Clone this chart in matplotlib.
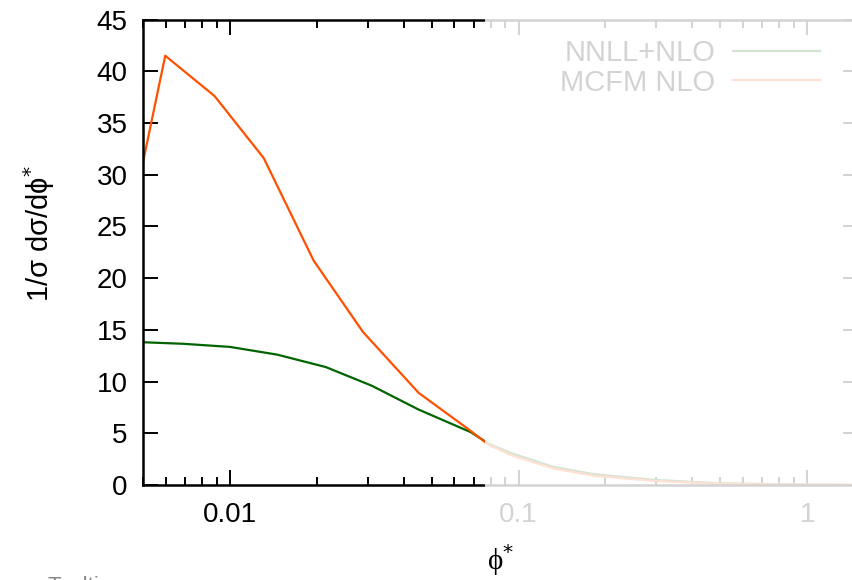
import matplotlib
matplotlib.use("Agg")
from matplotlib import pyplot as plt
from matplotlib.patches import Rectangle
from matplotlib.ticker import FixedLocator, LogLocator, NullFormatter
import numpy as np

# NNLL+NLO (green)
nnll_x = [0.005, 0.0069, 0.01, 0.0146, 0.0215, 0.031, 0.045, 0.0684, 0.0787,
          0.0938, 0.1321, 0.1817, 0.2931, 0.4882, 1.0, 1.42]
nnll_y = [13.8, 13.65, 13.35, 12.6, 11.4, 9.6, 7.3, 5.1, 4.0,
          3.1, 1.75, 1.05, 0.5, 0.17, 0.04, 0.01]

# MCFM NLO (orange)
mcfm_x = [0.005, 0.00597, 0.00885, 0.0131, 0.0195, 0.0289, 0.0451, 0.0670, 0.0787,
          0.0938, 0.1321, 0.1817, 0.2931, 0.4882, 1.0, 1.42]
mcfm_y = [31.2, 41.5, 37.6, 31.6, 21.7, 14.8, 8.9, 5.4, 3.9,
          2.9, 1.6, 0.9, 0.4, 0.12, 0.03, 0.01]

y_ticks = list(range(0, 50, 5))
x_ticks = [0.01, 0.1, 1]
x_ticklabels = ["0.01", "0.1", "1"]

plt.rcParams["font.family"] = ["Liberation Sans", "DejaVu Sans"]
plt.rcParams["mathtext.fontset"] = "dejavusans"

W, H = 853, 580
fig = plt.figure(figsize=(W / 100, H / 100), dpi=100)
ax = fig.add_axes([143 / W, (H - 485) / H, (858 - 143) / W, (485 - 19.5) / H])

ax.plot(nnll_x, nnll_y, color="#006400", lw=1.6, label="NNLL+NLO")
ax.plot(mcfm_x, mcfm_y, color="#ff5000", lw=1.6, label="MCFM NLO")

ax.set_xscale("log")
ax.set_xlim(0.005, 1.5)
ax.set_ylim(0, 45)
ax.xaxis.set_major_locator(FixedLocator(x_ticks))
ax.set_xticklabels(x_ticklabels)
ax.xaxis.set_minor_locator(LogLocator(base=10, subs=np.arange(2, 10)))
ax.xaxis.set_minor_formatter(NullFormatter())
ax.set_yticks(y_ticks)

for s in ax.spines.values():
    s.set_linewidth(1.8)
ax.tick_params(which="both", direction="in", top=True, right=True, width=1.4,
               labelsize=20, colors="black")
ax.tick_params(which="major", length=11)
ax.tick_params(which="minor", length=6)
ax.tick_params(axis="y", pad=11)
ax.tick_params(axis="x", pad=12)

ax.set_ylabel(r"1/σ dσ/dϕ$^{*}$", fontsize=21)
ax.yaxis.set_label_coords(-0.12, 0.54)
ax.set_xlabel(r"ϕ$^{*}$", fontsize=21,
              fontfamily=["Liberation Serif", "DejaVu Serif"])
ax.xaxis.set_label_coords(0.5, -0.122)

ax.legend(loc="upper right", bbox_to_anchor=(0.947, 0.958), markerfirst=False,
          frameon=False, fontsize=21, handlelength=3.0, handletextpad=0.6,
          labelspacing=0.05, borderpad=0, borderaxespad=0)

# faded overlay on the right part
fig.add_artist(Rectangle((485 / W, (H - 538) / H), 1 - 485 / W, 538 / H,
                         transform=fig.transFigure, facecolor="white",
                         edgecolor="none", alpha=0.83, zorder=100))

fig.text(48 / W, (H - 576) / H, "Tooltip", color="#888888", fontsize=16,
         va="top", ha="left")

fig.savefig("out.png", dpi=100)
